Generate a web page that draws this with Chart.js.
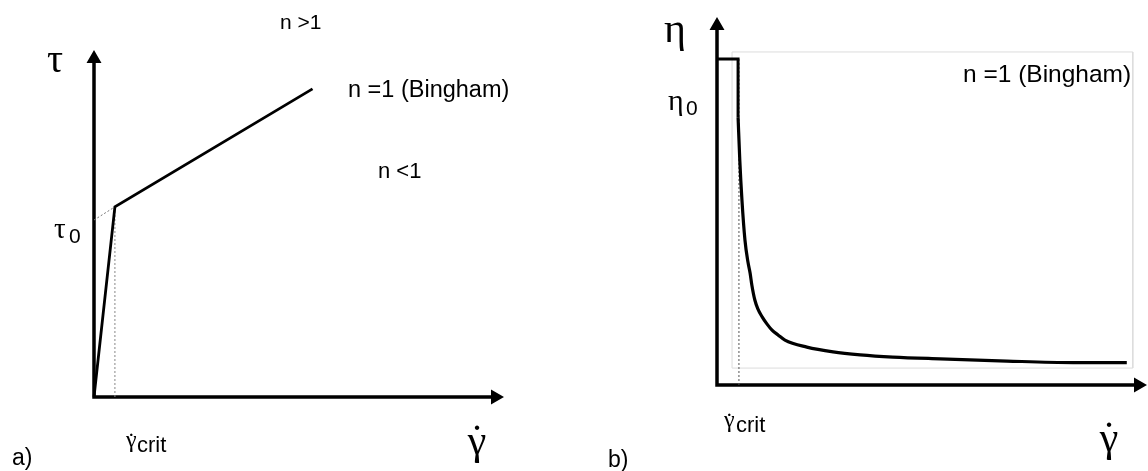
<!DOCTYPE html>
<html><head><meta charset="utf-8">
<script src="https://cdn.jsdelivr.net/npm/chart.js@4.4.0/dist/chart.umd.min.js"></script>
<style>
html,body{margin:0;padding:0;background:#fff;width:1148px;height:471px;overflow:hidden}
.wrap{position:absolute;top:0;width:574px;height:471px}
canvas{display:block}
</style></head><body>
<div class="wrap" style="left:0"><canvas id="ca" width="574" height="471"></canvas></div>
<div class="wrap" style="left:574px"><canvas id="cb" width="574" height="471"></canvas></div>
<script>
// ---------- Panel a) shear stress vs shear rate (schematic units 0..10) ----------
const aCurveX = [0, 0.51, 5.33];
const aCurveY = [0, 5.48, 8.88];
const aYieldExtX = [0, 0.51];
const aYieldExtY = [5.10, 5.48];
const aCritX = [0.51, 0.51];
const aCritY = [0, 5.48];

// ---------- Panel b) viscosity vs shear rate ----------
const bStepX = [0, 0.49, 0.49];
const bStepY = [8.86, 8.86, 7.28];
const bCurveX = [0.49, 0.53, 0.58, 0.65, 0.72, 0.77, 0.81, 0.88, 0.95, 1.05, 1.16, 1.28, 1.42, 1.58, 2.09, 2.70, 3.33, 4.09, 5.19, 6.74, 8.28, 9.53];
const bCurveY = [7.28, 6.11, 5.03, 3.94, 3.34, 3.04, 2.72, 2.31, 2.07, 1.85, 1.66, 1.49, 1.36, 1.22, 1.03, 0.90, 0.82, 0.76, 0.71, 0.65, 0.61, 0.61];
const bCritX = [0.51, 0.51];
const bCritY = [0, 8.86];
const bFrameX = [0.35, 0.35, 9.67, 9.67, 0.35];
const bFrameY = [0.46, 9.05, 9.05, 0.46, 0.46];

const zip = (xs, ys) => xs.map((x, i) => ({x, y: ys[i]}));
const SANS = '"Liberation Sans", Arial, sans-serif';
const SERIF = '"Liberation Serif", "Times New Roman", serif';

const axesPlugin = {
  id: 'arrowAxes',
  beforeDatasetsDraw(chart) {
    const {ctx, chartArea: a} = chart;
    ctx.save();
    ctx.strokeStyle = '#000'; ctx.fillStyle = '#000'; ctx.lineWidth = 3.5; ctx.lineCap = 'butt';
    ctx.beginPath();
    ctx.moveTo(a.left, a.bottom + 1.75); ctx.lineTo(a.left, a.top + 12);
    ctx.moveTo(a.left - 1.75, a.bottom); ctx.lineTo(a.right - 12, a.bottom);
    ctx.stroke();
    ctx.beginPath();
    ctx.moveTo(a.left, a.top); ctx.lineTo(a.left - 7.5, a.top + 13); ctx.lineTo(a.left + 7.5, a.top + 13); ctx.closePath();
    ctx.moveTo(a.right, a.bottom); ctx.lineTo(a.right - 13, a.bottom - 7.5); ctx.lineTo(a.right - 13, a.bottom + 7.5); ctx.closePath();
    ctx.fill();
    ctx.restore();
  }
};

const textPlugin = {
  id: 'labels',
  afterDraw(chart, args, opts) {
    const ctx = chart.ctx;
    ctx.save();
    ctx.fillStyle = '#000';
    ctx.textBaseline = 'alphabetic';
    for (const t of opts.items || []) {
      ctx.font = t.font;
      ctx.textAlign = t.align || 'left';
      ctx.fillText(t.text, t.x, t.y);
      if (t.dot) {
        const w = ctx.measureText(t.text).width;
        const cx = (t.align === 'center') ? t.x : t.x + w / 2;
        ctx.textAlign = 'center';
        ctx.fillText('\u02D9', cx + (t.dotDx || 0), t.y + (t.dotDy || 0));
      }
    }
    ctx.restore();
  }
};

function opts(pad, items) {
  return {
    responsive: false, animation: false, events: [],
    layout: {padding: pad},
    plugins: {legend: {display: false}, tooltip: {enabled: false}, labels: {items}},
    scales: {
      x: {type: 'linear', min: 0, max: 10, display: false},
      y: {type: 'linear', min: 0, max: 10, display: false}
    },
    elements: {point: {radius: 0}, line: {tension: 0}}
  };
}

const aItems = [
  {text: 'n >1', x: 280, y: 29, font: '21px ' + SANS},
  {text: 'n =1 (Bingham)', x: 348, y: 97, font: '23.5px ' + SANS},
  {text: 'n <1', x: 378, y: 178, font: '22px ' + SANS},
  {text: '\u03C4', x: 47, y: 72, font: '40px ' + SERIF},
  {text: '\u03C4', x: 54, y: 238, font: '29px ' + SERIF},
  {text: '0', x: 69, y: 243, font: '21px ' + SANS},
  {text: '\u03B3', x: 126, y: 447, font: '24px ' + SERIF, dot: true, dotDy: 2},
  {text: 'crit', x: 137, y: 452, font: '22px ' + SANS},
  {text: '\u03B3', x: 477, y: 454, font: '42px ' + SERIF, align: 'center', dot: true},
  {text: 'a)', x: 12, y: 465, font: '23px ' + SANS}
];

const bItems = [
  {text: '\u03B7', x: 90, y: 42, font: '42px ' + SERIF},
  {text: '\u03B7', x: 94, y: 110, font: '30px ' + SERIF},
  {text: '0', x: 112, y: 115, font: '21px ' + SANS},
  {text: 'n =1 (Bingham)', x: 389, y: 82, font: '24.5px ' + SANS},
  {text: '\u03B3', x: 150, y: 427, font: '24px ' + SERIF, dot: true, dotDy: 2},
  {text: 'crit', x: 162, y: 432, font: '22px ' + SANS},
  {text: '\u03B3', x: 535, y: 451, font: '42px ' + SERIF, align: 'center', dot: true},
  {text: 'b)', x: 34, y: 467, font: '23px ' + SANS}
];

new Chart(document.getElementById('ca'), {
  type: 'line',
  data: {datasets: [
    {data: zip(aCurveX, aCurveY), borderColor: '#000', borderWidth: 2.8, clip: false},
    {data: zip(aYieldExtX, aYieldExtY), borderColor: '#777', borderWidth: 1, borderDash: [2, 2], clip: false},
    {data: zip(aCritX, aCritY), borderColor: '#888', borderWidth: 1, borderDash: [2, 2], clip: false}
  ]},
  options: opts({left: 94, right: 70, top: 50, bottom: 74}, aItems),
  plugins: [axesPlugin, textPlugin]
});

new Chart(document.getElementById('cb'), {
  type: 'line',
  data: {datasets: [
    {data: zip(bStepX, bStepY), borderColor: '#000', borderWidth: 3, clip: false},
    {data: zip(bCurveX, bCurveY), borderColor: '#000', borderWidth: 3.2, cubicInterpolationMode: 'monotone', clip: false},
    {data: zip(bCritX, bCritY), borderColor: '#555', borderWidth: 1, borderDash: [2, 2], clip: false},
    {data: zip(bFrameX, bFrameY), borderColor: '#dcdcdc', borderWidth: 1, clip: false}
  ]},
  options: opts({left: 143, right: 1, top: 17, bottom: 86}, bItems),
  plugins: [axesPlugin, textPlugin]
});
</script>
</body></html>
